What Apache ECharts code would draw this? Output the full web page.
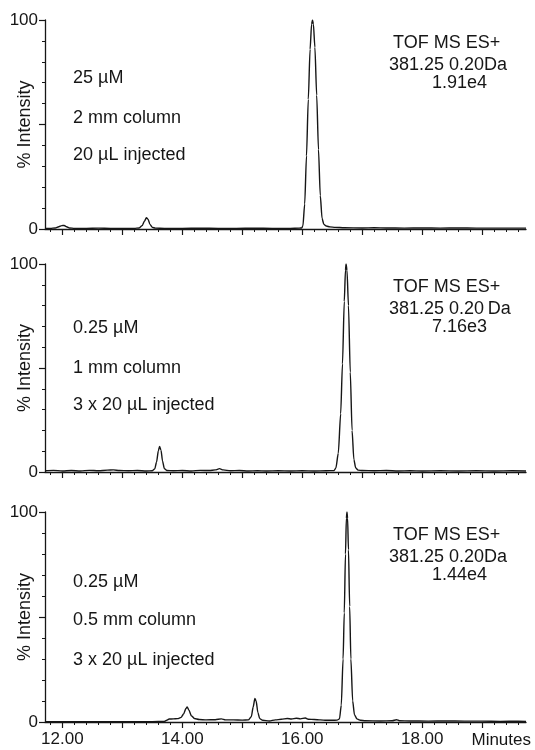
<!DOCTYPE html>
<html>
<head>
<meta charset="utf-8">
<script src="https://cdn.jsdelivr.net/npm/echarts@6/dist/echarts.min.js"></script>
<style>
  html, body { margin: 0; padding: 0; background: #fff; }
  #chart { width: 535px; height: 750px; }
</style>
</head>
<body>
<div id="chart"></div>
<script>
// x range in minutes, ticks and labels
const xRange = [11.71, 19.73];
const majorTicks = [12, 13, 14, 15, 16, 17, 18, 19];
const minorTicks = [11.8, 12.0, 12.2, 12.4, 12.6, 12.8, 13.0, 13.2, 13.4, 13.6, 13.8,
  14.0, 14.2, 14.4, 14.6, 14.8, 15.0, 15.2, 15.4, 15.6, 15.8, 16.0, 16.2, 16.4, 16.6,
  16.8, 17.0, 17.2, 17.4, 17.6, 17.8, 18.0, 18.2, 18.4, 18.6, 18.8, 19.0, 19.2, 19.4, 19.6];
const xLabels = [12, 14, 16, 18];

// panel 1: 25 uM, 2 mm column
const trace1 = [
  [11.71, 0.3], [11.80, 0.3], [11.88, 0.5], [11.94, 1.1], [11.99, 1.6], [12.03, 1.7],
  [12.07, 1.1], [12.12, 0.5], [12.20, 0.3], [12.40, 0.3], [12.60, 0.4], [12.80, 0.3],
  [13.00, 0.3], [13.20, 0.3], [13.28, 0.5], [13.33, 1.6], [13.37, 3.8], [13.40, 5.4],
  [13.43, 4.6], [13.46, 2.2], [13.50, 0.8], [13.55, 0.4], [13.70, 0.3], [14.00, 0.3],
  [14.30, 0.4], [14.60, 0.3], [14.90, 0.3], [15.20, 0.4], [15.50, 0.3], [15.80, 0.3],
  [15.95, 0.4], [15.99, 0.5], [16.01, 1.5], [16.04, 12], [16.07, 35], [16.10, 62],
  [16.13, 86], [16.155, 98], [16.17, 100], [16.185, 98], [16.21, 87], [16.24, 64],
  [16.27, 38], [16.30, 16], [16.33, 5], [16.36, 2.2], [16.40, 1.4], [16.46, 1.0],
  [16.55, 0.8], [16.70, 0.6], [17.00, 0.5], [17.20, 0.6], [17.40, 0.5], [17.70, 0.4],
  [18.00, 0.5], [18.30, 0.4], [18.60, 0.5], [18.90, 0.4], [19.20, 0.4], [19.50, 0.4],
  [19.73, 0.4]
];

// panel 2: 0.25 uM, 1 mm column
const trace2 = [
  [11.71, 0.6], [11.85, 0.8], [12.00, 0.5], [12.15, 0.7], [12.30, 0.5], [12.45, 0.8],
  [12.60, 0.6], [12.75, 0.9], [12.85, 1.0], [12.95, 0.7], [13.10, 0.6], [13.25, 0.7],
  [13.40, 0.5], [13.50, 0.6], [13.54, 1.5], [13.57, 4.8], [13.60, 10.2], [13.62, 12.3],
  [13.645, 10.4], [13.67, 5.2], [13.70, 1.6], [13.74, 0.7], [13.85, 0.6], [14.00, 0.7],
  [14.15, 0.5], [14.30, 0.8], [14.45, 0.7], [14.55, 1.0], [14.62, 1.6], [14.68, 1.0],
  [14.80, 0.6], [14.95, 0.7], [15.10, 0.5], [15.25, 0.6], [15.40, 0.5], [15.60, 0.6],
  [15.80, 0.5], [16.00, 0.6], [16.20, 0.5], [16.40, 0.6], [16.53, 0.7], [16.56, 2],
  [16.60, 9], [16.64, 28], [16.67, 52], [16.70, 82], [16.72, 97], [16.73, 100],
  [16.745, 97], [16.77, 80], [16.80, 48], [16.83, 20], [16.86, 6], [16.89, 2],
  [16.93, 0.9], [17.00, 0.7], [17.20, 0.6], [17.40, 0.7], [17.60, 0.5], [17.80, 0.6],
  [18.00, 0.5], [18.30, 0.6], [18.60, 0.5], [18.90, 0.6], [19.20, 0.5], [19.50, 0.6],
  [19.73, 0.5]
];

// panel 3: 0.25 uM, 0.5 mm column
const trace3 = [
  [11.71, 0.2], [12.00, 0.2], [12.40, 0.2], [12.80, 0.2], [13.20, 0.2], [13.50, 0.2],
  [13.70, 0.3], [13.74, 0.8], [13.78, 1.4], [13.85, 1.5], [13.92, 1.6], [13.98, 2.2],
  [14.02, 3.8], [14.06, 6.4], [14.08, 7.2], [14.11, 5.6], [14.15, 3.0], [14.20, 1.7],
  [14.28, 1.2], [14.40, 1.0], [14.55, 1.1], [14.65, 1.5], [14.72, 1.0], [14.85, 1.0],
  [15.00, 0.9], [15.10, 1.0], [15.15, 2.5], [15.18, 7.0], [15.21, 11.2], [15.23, 10.0],
  [15.26, 4.5], [15.29, 1.6], [15.34, 0.8], [15.45, 0.5], [15.55, 1.0], [15.65, 1.3],
  [15.75, 1.7], [15.82, 1.4], [15.90, 1.8], [15.97, 1.5], [16.05, 1.9], [16.10, 1.3],
  [16.20, 1.2], [16.30, 1.0], [16.40, 0.8], [16.50, 0.8], [16.58, 0.9], [16.62, 1.5],
  [16.65, 8], [16.68, 30], [16.70, 52], [16.72, 80], [16.735, 97], [16.745, 100],
  [16.755, 97], [16.77, 82], [16.79, 55], [16.81, 30], [16.84, 10], [16.87, 3.5],
  [16.91, 1.5], [16.97, 0.8], [17.05, 0.6], [17.30, 0.5], [17.50, 0.6], [17.57, 1.1],
  [17.62, 0.6], [17.80, 0.5], [18.10, 0.4], [18.40, 0.5], [18.70, 0.4], [19.00, 0.4],
  [19.30, 0.3], [19.60, 0.4], [19.73, 0.3]
];

const conditions = [
  ['25 \u00B5M', '2 mm column', '20 \u00B5L injected'],
  ['0.25 \u00B5M', '1 mm column', '3 x 20 \u00B5L injected'],
  ['0.25 \u00B5M', '0.5 mm column', '3 x 20 \u00B5L injected']
];
const detector = [
  ['TOF MS ES+', '381.25 0.20Da', '1.91e4'],
  ['TOF MS ES+', '381.25 0.20\u2009Da', '7.16e3'],
  ['TOF MS ES+', '381.25 0.20Da', '1.44e4']
];

const FONT = '"Liberation Sans", Arial, Helvetica, sans-serif';
const INK = '#161616';

const panels = [
  { top: 20, height: 209, condY: [78, 118, 155], detY: [43, 65, 83] },
  { top: 264, height: 208, condY: [328, 368, 405], detY: [287, 309, 327] },
  { top: 512, height: 210, condY: [582, 620, 660], detY: [535, 557, 575] }
];

const grids = panels.map(p => ({
  left: 45, right: 9, top: p.top, height: p.height,
  containLabel: false, outerBoundsMode: 'none'
}));

const xAxes = [];
panels.forEach((p, i) => {
  const last = i === panels.length - 1;
  xAxes.push({
    type: 'value', gridIndex: i, position: 'bottom', min: xRange[0], max: xRange[1],
    axisLine: { onZero: false, lineStyle: { color: INK, width: 1.3 } },
    axisTick: { customValues: majorTicks, length: 6, lineStyle: { color: INK, width: 1.2 } },
    axisLabel: {
      show: last, customValues: xLabels, margin: 9,
      formatter: v => v.toFixed(2),
      fontFamily: FONT, fontSize: 17, color: INK
    },
    splitLine: { show: false }
  });
  xAxes.push({
    type: 'value', gridIndex: i, position: 'bottom', min: xRange[0], max: xRange[1],
    axisLine: { show: false, onZero: false },
    axisTick: { customValues: minorTicks, length: 3, lineStyle: { color: INK, width: 1 } },
    axisLabel: { show: false },
    splitLine: { show: false }
  });
});

const yAxes = panels.map((p, i) => ({
  type: 'value', gridIndex: i, position: 'left', min: 0, max: 100, interval: 50,
  name: '% Intensity', nameLocation: 'middle', nameGap: 11, nameMoveOverlap: false,
  nameTextStyle: { fontFamily: FONT, fontSize: 18, color: INK },
  axisLine: { show: true, lineStyle: { color: INK, width: 1.3 } },
  axisTick: { length: 6, lineStyle: { color: INK, width: 1.2 } },
  minorTick: { show: true, splitNumber: 5, length: 3, lineStyle: { color: INK, width: 1 } },
  axisLabel: {
    margin: 7, fontFamily: FONT, fontSize: 17, color: INK,
    formatter: v => (v === 50 ? '' : String(v))
  },
  splitLine: { show: false },
  minorSplitLine: { show: false }
}));

const series = [trace1, trace2, trace3].map((d, i) => ({
  type: 'line', xAxisIndex: i * 2, yAxisIndex: i, data: d,
  showSymbol: false, smooth: 0.25, smoothMonotone: 'x',
  lineStyle: { color: INK, width: 1.4 },
  silent: true, animation: false
}));

const graphics = [];
panels.forEach((p, i) => {
  conditions[i].forEach((t, k) => {
    graphics.push({
      type: 'text', x: 73, y: p.condY[k],
      style: { text: t, font: '18px ' + FONT, fill: INK, verticalAlign: 'middle' }
    });
  });
  const detX = [393, 389, 432];
  detector[i].forEach((t, k) => {
    graphics.push({
      type: 'text', x: detX[k], y: p.detY[k],
      style: { text: t, font: '18px ' + FONT, fill: INK, verticalAlign: 'middle' }
    });
  });
});
graphics.push({
  type: 'text', x: 531, y: 740,
  style: { text: 'Minutes', font: '17px ' + FONT, fill: INK, align: 'right', verticalAlign: 'middle' }
});

const chart = echarts.init(document.getElementById('chart'), null, { renderer: 'canvas' });
chart.setOption({
  animation: false,
  backgroundColor: '#fff',
  grid: grids,
  xAxis: xAxes,
  yAxis: yAxes,
  series: series,
  graphic: graphics
});
</script>
</body>
</html>
